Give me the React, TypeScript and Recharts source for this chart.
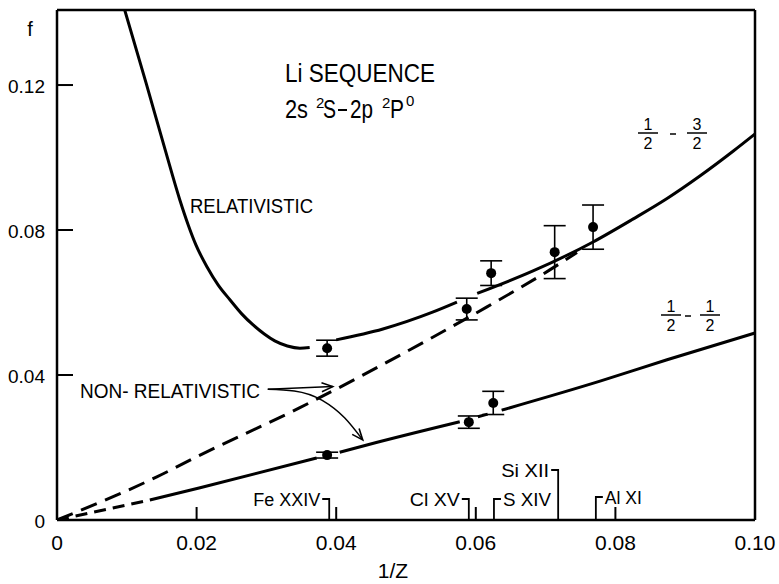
import { ComposedChart, Line, Scatter, ErrorBar, XAxis, YAxis, Customized } from 'recharts';

const FONT = '"Liberation Sans", Arial, sans-serif';

const X_TICKS = [0, 0.02, 0.04, 0.06, 0.08, 0.1];
const Y_TICKS = [0, 0.04, 0.08, 0.12];
const TOP_TICKS = [0.02, 0.04, 0.06, 0.08];
const RIGHT_TICKS = [0.04, 0.08, 0.12];

// 1/2 - 3/2, relativistic (null = gap drawn round a data point)
const REL_32 = [
  { x: 0.0097, f: 0.1407 },
  { x: 0.0128, f: 0.1203 },
  { x: 0.0155, f: 0.1021 },
  { x: 0.0176, f: 0.0883 },
  { x: 0.0188, f: 0.0814 },
  { x: 0.0199, f: 0.0759 },
  { x: 0.0215, f: 0.0698 },
  { x: 0.0231, f: 0.0648 },
  { x: 0.0248, f: 0.0607 },
  { x: 0.0265, f: 0.0568 },
  { x: 0.0281, f: 0.0538 },
  { x: 0.0297, f: 0.0513 },
  { x: 0.0312, f: 0.0494 },
  { x: 0.033, f: 0.048 },
  { x: 0.0348, f: 0.0474 },
  { x: 0.0362, f: 0.0476 },
  { x: 0.038, f: null },
  { x: 0.04, f: 0.0497 },
  { x: 0.0467, f: 0.0527 },
  { x: 0.0539, f: 0.0574 },
  { x: 0.0573, f: 0.0601 },
  { x: 0.059, f: null },
  { x: 0.0602, f: 0.0625 },
  { x: 0.0682, f: 0.0687 },
  { x: 0.0768, f: 0.0767 },
  { x: 0.0825, f: 0.083 },
  { x: 0.0874, f: 0.0887 },
  { x: 0.0921, f: 0.0949 },
  { x: 0.0969, f: 0.1018 },
  { x: 0.1, f: 0.1065 },
];

// 1/2 - 3/2, non-relativistic (dashed)
const NONREL_32 = [
  { x: 0, f: 0 },
  { x: 0.0143, f: 0.0119 },
  { x: 0.0205, f: 0.0179 },
  { x: 0.0348, f: 0.031 },
  { x: 0.0539, f: 0.0505 },
  { x: 0.0616, f: 0.0588 },
  { x: 0.0706, f: 0.069 },
  { x: 0.0745, f: 0.0738 },
];

// 1/2 - 1/2, dashed start and solid part
const REL_12_START = [
  { x: 0, f: 0 },
  { x: 0.0133, f: 0.0055 },
];
const REL_12 = [
  { x: 0.0133, f: 0.0055 },
  { x: 0.0205, f: 0.0089 },
  { x: 0.0372, f: 0.0171 },
  { x: 0.039, f: null },
  { x: 0.0405, f: 0.0187 },
  { x: 0.0444, f: 0.0207 },
  { x: 0.0577, f: 0.0271 },
  { x: 0.059, f: null },
  { x: 0.0603, f: 0.0285 },
  { x: 0.0617, f: 0.0292 },
  { x: 0.0625, f: null },
  { x: 0.0637, f: 0.0303 },
  { x: 0.0778, f: 0.0383 },
  { x: 0.0874, f: 0.0442 },
  { x: 0.1, f: 0.0516 },
];

// measured points
const OBS_32 = [
  { x: 0.0387, f: 0.0474, err: 0.0022 },
  { x: 0.0587, f: 0.0582, err: 0.003 },
  { x: 0.0622, f: 0.0681, err: 0.0034 },
  { x: 0.0713, f: 0.0739, err: 0.0073 },
  { x: 0.0768, f: 0.0808, err: 0.0061 },
];
const OBS_12 = [
  { x: 0.0387, f: 0.0179, err: 0.0008 },
  { x: 0.059, f: 0.027, err: 0.0017 },
  { x: 0.0625, f: 0.0323, err: 0.0032 },
];

const IONS = [
  { name: 'Fe XXIV', x: 0.039, f: 0 },
  { name: 'Cl XV', x: 0.059, f: 0 },
  { name: 'S XIV', x: 0.0626, f: 0 },
  { name: 'Si XII', x: 0.0718, f: 0 },
  { name: 'Al XI', x: 0.0772, f: 0 },
];

// arrows from the NON-RELATIVISTIC label
const ARROW_STRAIGHT = [
  { x: 0.0302, f: 0.0361 },
  { x: 0.0395, f: 0.0368 },
];
const ARROW_CURVED = [
  { x: 0.0302, f: 0.0361 },
  { x: 0.034, f: 0.0356 },
  { x: 0.038, f: 0.033 },
  { x: 0.0412, f: 0.0282 },
  { x: 0.0438, f: 0.0221 },
];

const ION_STYLE: Record<string, { side: 'left' | 'right'; h: number; w: number }> = {
  'Fe XXIV': { side: 'left', h: 21, w: 67 },
  'Cl XV': { side: 'left', h: 21, w: 50 },
  'S XIV': { side: 'right', h: 21, w: 48 },
  'Si XII': { side: 'left', h: 50, w: 48 },
  'Al XI': { side: 'right', h: 23, w: 37 },
};

const fmt = (v: number) => (v === 0 ? '0' : v.toFixed(2));

const BottomTick = ({ x, y, payload }: any) => (
  <g>
    <line x1={x} x2={x} y1={y} y2={y - 13} stroke="#000" strokeWidth={2} />
    <text x={x} y={y + 30} textAnchor="middle" fontSize={21} fontFamily={FONT} fill="#000">
      {fmt(payload.value)}
    </text>
  </g>
);

const LeftTick = ({ x, y, payload }: any) => (
  <g>
    <line x1={x} x2={x + 16} y1={y} y2={y} stroke="#000" strokeWidth={2} />
    <text x={x - 12} y={y + 7.5} textAnchor="end" fontSize={19} fontFamily={FONT} fill="#000">
      {fmt(payload.value)}
    </text>
  </g>
);

const TopTick = ({ x, y }: any) => <line x1={x} x2={x} y1={y} y2={y + 17} stroke="#000" strokeWidth={2} />;
const RightTick = ({ x, y }: any) => <line x1={x} x2={x - 17} y1={y} y2={y} stroke="#000" strokeWidth={2} />;

const Dot = ({ cx, cy }: any) => <circle cx={cx} cy={cy} r={5} fill="#000" />;

const IonMark = ({ cx, cy, payload }: any) => {
  const s = ION_STYLE[payload.name];
  const top = cy - s.h;
  const hx = s.side === 'left' ? cx - 7 : cx + 7;
  const tx = s.side === 'left' ? hx - 2 - s.w : hx + 2;
  return (
    <g>
      <path d={`M${cx},${cy}V${top}H${hx}`} fill="none" stroke="#000" strokeWidth={1.8} />
      <text
        x={tx}
        y={top + 7}
        fontSize={18}
        fontFamily={FONT}
        textLength={s.w}
        lengthAdjust="spacingAndGlyphs"
        fill="#000"
      >
        {payload.name}
      </text>
    </g>
  );
};

const arrowHead = (angle: number, last: number) => (p: any) => {
  if (p.index !== last) return <g key={p.index} />;
  const a = (angle * Math.PI) / 180;
  const pt = (dx: number, dy: number) =>
    `${p.cx + dx * Math.cos(a) - dy * Math.sin(a)},${p.cy + dx * Math.sin(a) + dy * Math.cos(a)}`;
  return (
    <path
      key={p.index}
      d={`M${pt(-11, -4.5)}L${p.cx},${p.cy}L${pt(-11, 4.5)}`}
      fill="none"
      stroke="#000"
      strokeWidth={1.6}
    />
  );
};

const T = (props: any) => <text fontFamily={FONT} fill="#000" {...props} />;

const Fraction = ({ x, top, num, den }: { x: number; top: number; num: string; den: string }) => (
  <g>
    <T x={x} y={top + 10} fontSize={16} textAnchor="middle">{num}</T>
    <line x1={x - 10} x2={x + 10} y1={top + 13} y2={top + 13} stroke="#000" strokeWidth={1.5} />
    <T x={x} y={top + 29} fontSize={16} textAnchor="middle">{den}</T>
  </g>
);

const Annotations = () => (
  <g>
    <T x={30} y={36} fontSize={20} textAnchor="middle">f</T>
    <T x={393} y={578} fontSize={21} textAnchor="middle">1/Z</T>

    <T x={285} y={82} fontSize={25} textLength={150} lengthAdjust="spacingAndGlyphs">Li SEQUENCE</T>
    <T x={285} y={118} fontSize={25} textLength={23} lengthAdjust="spacingAndGlyphs">2s</T>
    <T x={316} y={108} fontSize={15}>2</T>
    <T x={323} y={118} fontSize={25} textLength={13} lengthAdjust="spacingAndGlyphs">S</T>
    <line x1={338} x2={347} y1={110} y2={110} stroke="#000" strokeWidth={2} />
    <T x={350} y={118} fontSize={25} textLength={23} lengthAdjust="spacingAndGlyphs">2p</T>
    <T x={382} y={108} fontSize={15}>2</T>
    <T x={390} y={118} fontSize={25} textLength={14} lengthAdjust="spacingAndGlyphs">P</T>
    <T x={406} y={106} fontSize={15}>0</T>

    <T x={190} y={213} fontSize={20} textLength={123} lengthAdjust="spacingAndGlyphs">RELATIVISTIC</T>
    <T x={80} y={398} fontSize={20} textLength={180} lengthAdjust="spacingAndGlyphs">NON- RELATIVISTIC</T>

    <Fraction x={648} top={120} num="1" den="2" />
    <line x1={670} x2={676} y1={134} y2={134} stroke="#000" strokeWidth={1.5} />
    <Fraction x={697} top={120} num="3" den="2" />

    <Fraction x={671} top={302} num="1" den="2" />
    <line x1={685} x2={691} y1={316} y2={316} stroke="#000" strokeWidth={1.5} />
    <Fraction x={710} top={302} num="1" den="2" />
  </g>
);

export default function App() {
  return (
    <div style={{ position: 'absolute', left: 0, top: 0, background: '#fff' }}>
      <ComposedChart width={779} height={584} margin={{ top: 0, right: 0, bottom: 24, left: 0 }}>
        <XAxis
          dataKey="x"
          type="number"
          domain={[0, 0.1]}
          ticks={X_TICKS}
          interval={0}
          height={40}
          tickSize={0}
          tickMargin={0}
          tickLine={false}
          tick={<BottomTick />}
          axisLine={{ stroke: '#000', strokeWidth: 2.5 }}
        />
        <XAxis
          xAxisId="top"
          orientation="top"
          type="number"
          domain={[0, 0.1]}
          ticks={TOP_TICKS}
          interval={0}
          height={10}
          tickSize={0}
          tickMargin={0}
          tickLine={false}
          tick={<TopTick />}
          axisLine={{ stroke: '#000', strokeWidth: 2.5 }}
        />
        <YAxis
          dataKey="f"
          type="number"
          domain={[0, 0.1407]}
          allowDataOverflow
          ticks={Y_TICKS}
          interval={0}
          width={57}
          tickSize={0}
          tickMargin={0}
          tickLine={false}
          tick={<LeftTick />}
          axisLine={{ stroke: '#000', strokeWidth: 2.5 }}
        />
        <YAxis
          yAxisId="right"
          orientation="right"
          type="number"
          domain={[0, 0.1407]}
          ticks={RIGHT_TICKS}
          interval={0}
          width={24}
          tickSize={0}
          tickMargin={0}
          tickLine={false}
          tick={<RightTick />}
          axisLine={{ stroke: '#000', strokeWidth: 2.5 }}
        />

        <Line data={REL_32} dataKey="f" type="monotone" stroke="#000" strokeWidth={3} dot={false} activeDot={false} isAnimationActive={false} />
        <Line data={NONREL_32} dataKey="f" type="monotone" stroke="#000" strokeWidth={3} strokeDasharray="17 9" dot={false} activeDot={false} isAnimationActive={false} />
        <Line data={REL_12_START} dataKey="f" type="linear" stroke="#000" strokeWidth={3} strokeDasharray="12 7" dot={false} activeDot={false} isAnimationActive={false} />
        <Line data={REL_12} dataKey="f" type="monotone" stroke="#000" strokeWidth={3} dot={false} activeDot={false} isAnimationActive={false} />
        <Line data={ARROW_STRAIGHT} dataKey="f" type="linear" stroke="#000" strokeWidth={1.5} dot={arrowHead(-3, ARROW_STRAIGHT.length - 1)} activeDot={false} isAnimationActive={false} />
        <Line data={ARROW_CURVED} dataKey="f" type="monotone" stroke="#000" strokeWidth={1.5} dot={arrowHead(50, ARROW_CURVED.length - 1)} activeDot={false} isAnimationActive={false} />

        <Scatter data={IONS} dataKey="f" shape={<IonMark />} isAnimationActive={false} />
        <Scatter data={OBS_32} dataKey="f" shape={<Dot />} isAnimationActive={false}>
          <ErrorBar dataKey="err" direction="y" width={11} stroke="#000" strokeWidth={1.6} />
        </Scatter>
        <Scatter data={OBS_12} dataKey="f" shape={<Dot />} isAnimationActive={false}>
          <ErrorBar dataKey="err" direction="y" width={11} stroke="#000" strokeWidth={1.6} />
        </Scatter>

        <Customized component={<Annotations />} />
      </ComposedChart>
    </div>
  );
}
